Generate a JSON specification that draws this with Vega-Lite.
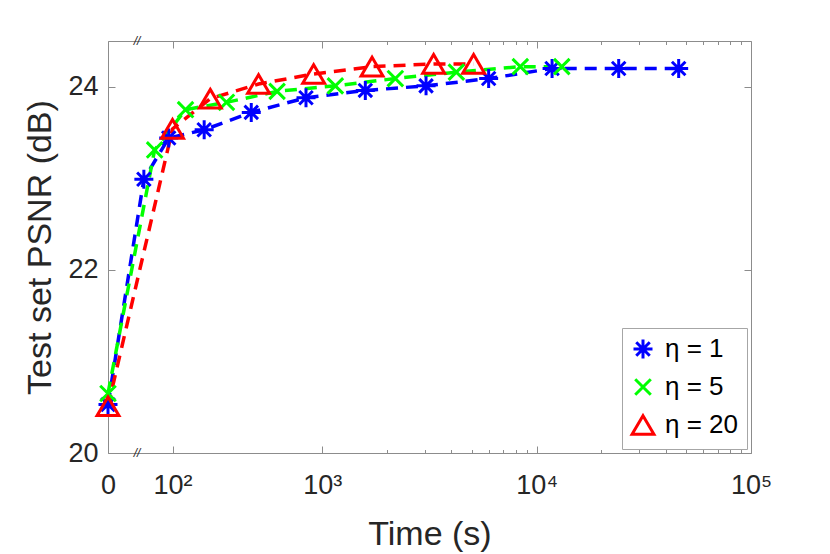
{
  "$schema": "https://vega.github.io/schema/vega-lite/v6.json",
  "width": 643,
  "height": 412,
  "autosize": {"type": "none"},
  "padding": {"left": 108, "top": 41, "right": 79, "bottom": 101},
  "background": "white",
  "config": {
    "view": {"stroke": null},
    "font": "Liberation Sans",
    "legend": {
      "orient": "none", "legendX": 514, "legendY": 287, "title": null,
      "labelFontSize": 26, "labelColor": "#000000", "labelOffset": 9,
      "symbolSize": 361, "symbolStrokeWidth": 3,
      "rowPadding": 8, "padding": 8, "strokeColor": "#a6a6a6", "fillColor": "#ffffff",
      "cornerRadius": 0
    }
  },
  "datasets": {
    "psnr": [
      {"series": "η = 1", "time": 0, "psnr": 20.53},
      {"series": "η = 1", "time": 47, "psnr": 22.99},
      {"series": "η = 1", "time": 92, "psnr": 23.44},
      {"series": "η = 1", "time": 181, "psnr": 23.53},
      {"series": "η = 1", "time": 366, "psnr": 23.72},
      {"series": "η = 1", "time": 739, "psnr": 23.88},
      {"series": "η = 1", "time": 1487, "psnr": 23.96},
      {"series": "η = 1", "time": 2947, "psnr": 24.01},
      {"series": "η = 1", "time": 5870, "psnr": 24.09},
      {"series": "η = 1", "time": 11700, "psnr": 24.2},
      {"series": "η = 1", "time": 24040, "psnr": 24.2},
      {"series": "η = 1", "time": 45880, "psnr": 24.2},
      {"series": "η = 5", "time": 0, "psnr": 20.65},
      {"series": "η = 5", "time": 65, "psnr": 23.31},
      {"series": "η = 5", "time": 130, "psnr": 23.75},
      {"series": "η = 5", "time": 257, "psnr": 23.83},
      {"series": "η = 5", "time": 515, "psnr": 23.95},
      {"series": "η = 5", "time": 1050, "psnr": 24.01},
      {"series": "η = 5", "time": 2091, "psnr": 24.09},
      {"series": "η = 5", "time": 4120, "psnr": 24.16},
      {"series": "η = 5", "time": 8290, "psnr": 24.22},
      {"series": "η = 5", "time": 13000, "psnr": 24.22},
      {"series": "η = 20", "time": 0, "psnr": 20.51},
      {"series": "η = 20", "time": 100, "psnr": 23.54},
      {"series": "η = 20", "time": 200, "psnr": 23.87},
      {"series": "η = 20", "time": 404, "psnr": 24.03},
      {"series": "η = 20", "time": 811, "psnr": 24.14},
      {"series": "η = 20", "time": 1606, "psnr": 24.22},
      {"series": "η = 20", "time": 3206, "psnr": 24.25},
      {"series": "η = 20", "time": 4980, "psnr": 24.25}
    ],
    "breaks": [
      {"time": 36.5, "psnr": 20, "mark": "//"},
      {"time": 36.5, "psnr": 24.5, "mark": "//"}
    ]
  },
  "layer": [
    {
      "data": {"name": "psnr"},
      "transform": [{"filter": "datum.series == 'η = 1'"}],
      "mark": {"type": "line", "strokeDash": [12, 8], "strokeWidth": 3.5, "color": "#0000ff"},
      "encoding": {
        "x": {
          "field": "time", "type": "quantitative",
          "scale": {"type": "symlog", "constant": 100, "domain": [0, 99900], "nice": false},
          "axis": {
            "orient": "bottom",
            "title": "Time (s)",
            "titleFontSize": 34, "titleFontWeight": "normal", "titleColor": "#262626", "titlePadding": 16,
            "values": [0, 100, 900, 1900, 2900, 3900, 4900, 5900, 6900, 7900, 8900, 9900, 19900, 29900, 39900, 49900, 59900, 69900, 79900, 89900, 99900],
            "labelExpr": "datum.value == 0 ? '0' : datum.value == 100 ? '10²' : datum.value == 900 ? '10³' : datum.value == 9900 ? '10⁴' : datum.value == 99900 ? '10⁵' : ''",
            "labelFontSize": 27, "labelColor": "#262626", "labelPadding": 26,
            "labelFlush": false, "labelOverlap": false, "labelBound": false,
            "tickSize": {"condition": {"test": "indexof([0,100,900,9900,99900], datum.value) >= 0", "value": -7}, "value": -3.5},
            "tickColor": "#8c8c8c", "domainColor": "#8c8c8c", "grid": false
          }
        },
        "y": {
          "field": "psnr", "type": "quantitative",
          "scale": {"domain": [20, 24.5], "nice": false, "zero": false},
          "axis": {
            "orient": "left",
            "title": "Test set PSNR (dB)",
            "titleFontSize": 34, "titleFontWeight": "normal", "titleColor": "#262626", "titlePadding": 10,
            "values": [20, 22, 24],
            "labelFontSize": 27, "labelColor": "#262626", "labelPadding": 17,
            "tickSize": -7, "tickColor": "#8c8c8c", "domainColor": "#8c8c8c", "grid": false
          }
        }
      }
    },
    {
      "data": {"name": "psnr"},
      "transform": [{"filter": "datum.series == 'η = 5'"}],
      "mark": {"type": "line", "strokeDash": [12, 8], "strokeWidth": 3.5, "color": "#00ff00"},
      "encoding": {
        "x": {"field": "time", "type": "quantitative", "axis": null},
        "y": {"field": "psnr", "type": "quantitative", "axis": null}
      }
    },
    {
      "data": {"name": "psnr"},
      "transform": [{"filter": "datum.series == 'η = 20'"}],
      "mark": {"type": "line", "strokeDash": [12, 8], "strokeWidth": 3.5, "color": "#ff0000"},
      "encoding": {
        "x": {"field": "time", "type": "quantitative", "axis": null},
        "y": {"field": "psnr", "type": "quantitative", "axis": null}
      }
    },
    {
      "data": {"name": "psnr"},
      "mark": {"type": "point", "filled": false, "strokeWidth": 3, "size": 361, "opacity": 1, "strokeJoin": "miter"},
      "encoding": {
        "x": {
          "field": "time", "type": "quantitative",
          "axis": {
            "orient": "top", "title": null, "labels": false,
            "values": [0, 100, 900, 1900, 2900, 3900, 4900, 5900, 6900, 7900, 8900, 9900, 19900, 29900, 39900, 49900, 59900, 69900, 79900, 89900, 99900],
            "tickSize": {"condition": {"test": "indexof([0,100,900,9900,99900], datum.value) >= 0", "value": -7}, "value": -3.5},
            "tickColor": "#8c8c8c", "domainColor": "#8c8c8c", "grid": false
          }
        },
        "y": {
          "field": "psnr", "type": "quantitative",
          "axis": {
            "orient": "right", "title": null, "labels": false, "values": [20, 22, 24],
            "tickSize": -7, "tickColor": "#8c8c8c", "domainColor": "#8c8c8c", "grid": false
          }
        },
        "color": {
          "field": "series", "type": "nominal",
          "scale": {"domain": ["η = 1", "η = 5", "η = 20"], "range": ["#0000ff", "#00ff00", "#ff0000"]},
          "legend": {"title": null}
        },
        "shape": {
          "field": "series", "type": "nominal",
          "scale": {
            "domain": ["η = 1", "η = 5", "η = 20"],
            "range": [
              "M-1,0L1,0M0,-1L0,1M-0.71,-0.71L0.71,0.71M-0.71,0.71L0.71,-0.71",
              "M-0.82,-0.82L0.82,0.82M-0.82,0.82L0.82,-0.82",
              "M0,-0.98L1.15,0.98L-1.15,0.98Z"
            ]
          },
          "legend": {"title": null}
        }
      }
    },
    {
      "data": {"name": "breaks"},
      "mark": {"type": "text", "fontSize": 12, "fontStyle": "italic", "color": "#262626", "baseline": "middle", "align": "center"},
      "encoding": {
        "x": {"field": "time", "type": "quantitative", "axis": null},
        "y": {"field": "psnr", "type": "quantitative", "axis": null},
        "text": {"field": "mark"}
      }
    }
  ],
  "resolve": {"axis": {"x": "independent", "y": "independent"}}
}
